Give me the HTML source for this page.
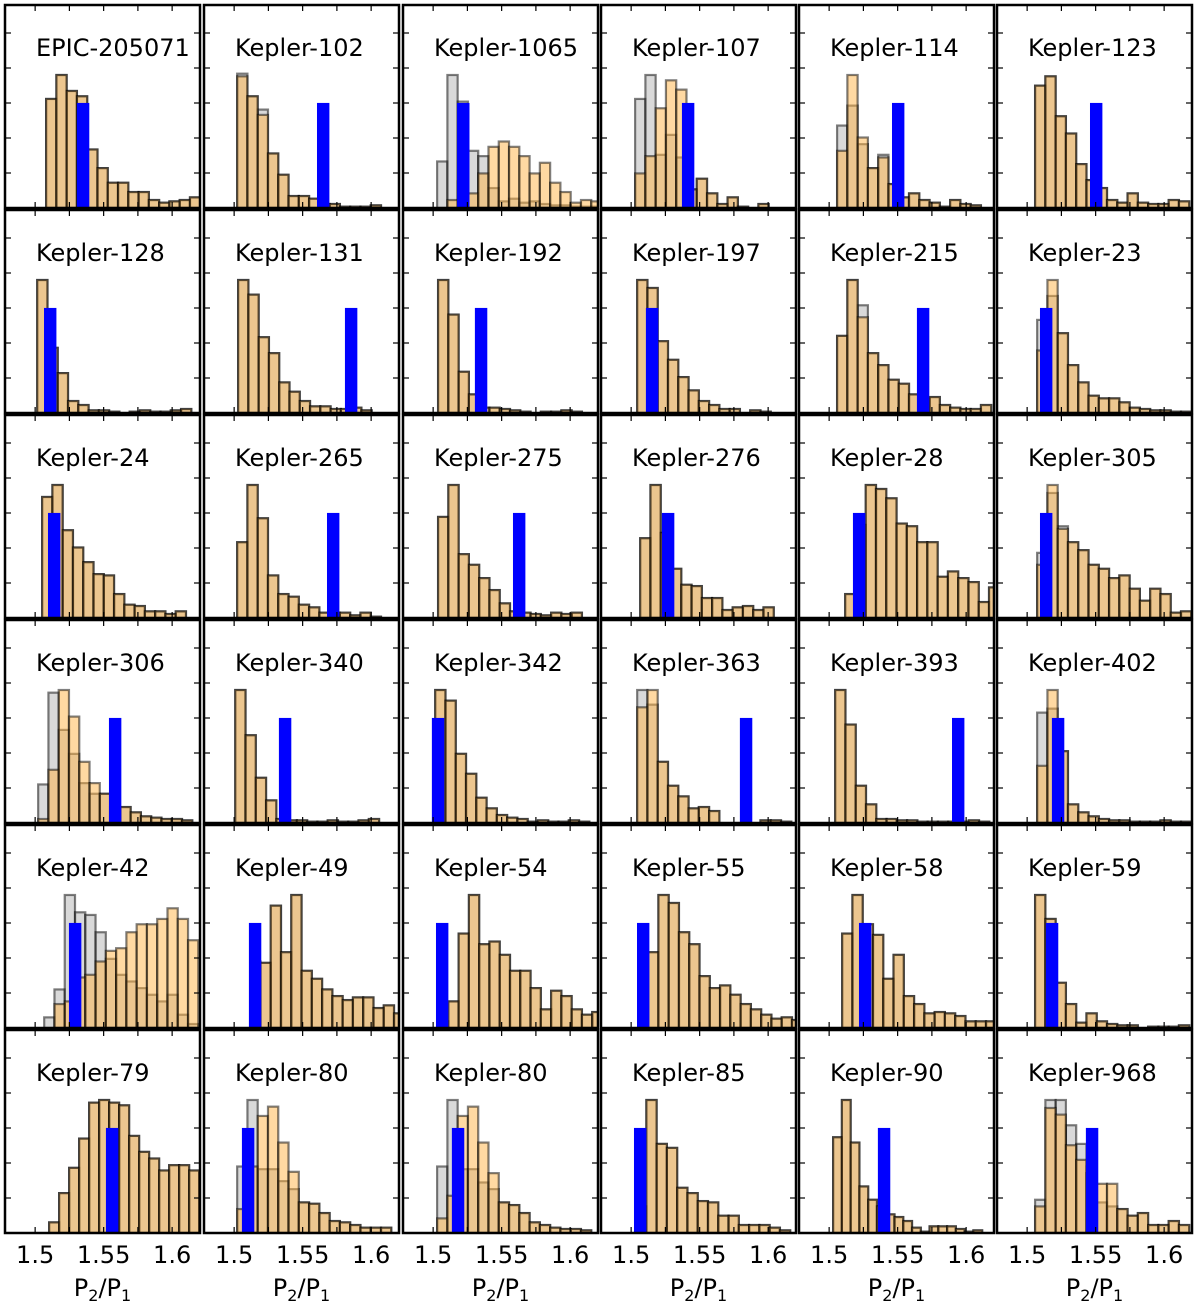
<!DOCTYPE html>
<html><head><meta charset="utf-8">
<style>
html,body{margin:0;padding:0;background:#fff;}
svg{display:block;}
text{font-family:"DejaVu Sans","Liberation Sans",sans-serif;}
</style></head>
<body>
<svg id="fig" width="1200" height="1306" viewBox="0 0 1200 1306" xmlns="http://www.w3.org/2000/svg"></svg>
<script>
const systemNames = ["EPIC-205071","Kepler-102","Kepler-1065","Kepler-107","Kepler-114","Kepler-123",
"Kepler-128","Kepler-131","Kepler-192","Kepler-197","Kepler-215","Kepler-23",
"Kepler-24","Kepler-265","Kepler-275","Kepler-276","Kepler-28","Kepler-305",
"Kepler-306","Kepler-340","Kepler-342","Kepler-363","Kepler-393","Kepler-402",
"Kepler-42","Kepler-49","Kepler-54","Kepler-55","Kepler-58","Kepler-59",
"Kepler-79","Kepler-80","Kepler-80","Kepler-85","Kepler-90","Kepler-968"];
const binStarts = [1.5080,1.5022,1.5029,1.5029,1.5058,1.5058,
1.5015,1.5029,1.5036,1.5044,1.5058,1.5073,
1.5051,1.5022,1.5036,1.5066,1.5117,1.5073,
1.5022,1.5008,1.5015,1.5044,1.5044,1.5073,
1.5066,1.5117,1.5036,1.5124,1.5095,1.5058,
1.5102,1.5022,1.5029,1.5036,1.5029,1.5058];
const binWidths = [0.0075,0.0075,0.0075,0.0075,0.0075,0.0075,
0.0075,0.0075,0.0075,0.0075,0.0075,0.0075,
0.0075,0.0075,0.0075,0.0075,0.0075,0.0075,
0.0075,0.0075,0.0075,0.0075,0.0075,0.0075,
0.0075,0.0075,0.0075,0.0075,0.0075,0.0075,
0.0073,0.0075,0.0075,0.0075,0.0064,0.0075];
const orangeCounts = [
[82,100,88,84,44,30,19,19,12,12,6,4,5,6,8],
[99,84,70,41,25,9,9,7,3,3,1,1,1,2,0],
[0,6,20,11,26,46,50,46,39,26,34,19,12,4,6,5],
[26,39,75,96,89,14,22,11,3,8,1,0,3,0,0],
[43,100,53,30,38,18,8,11,6,4,1,6,3,2,0],
[92,99,69,56,33,21,15,6,4,11,4,3,3,6,5],
[100,49,30,9,6,2,2,1,0,1,2,1,1,2,3],
[100,89,57,45,23,16,9,5,5,3,3,4,2],
[100,74,31,14,4,4,3,2,1,0,1,1,2,1],
[100,94,54,40,27,17,9,6,3,3,0,2,1],
[58,100,72,45,36,25,22,14,11,12,6,4,3,3,6],
[47,100,60,36,23,13,11,11,8,4,3,2,2,1,1],
[91,100,66,53,42,33,32,18,10,9,5,5,3,5],
[57,100,75,32,18,16,10,8,4,4,4,2,4,1],
[76,100,48,40,30,21,11,5,4,3,2,4,3,4],
[60,100,64,37,25,24,15,15,6,8,9,6,8],
[18,70,100,97,90,71,69,57,57,31,35,30,27,12,23],
[40,100,67,57,51,40,37,30,32,22,13,22,18,4,5],
[3,40,100,80,46,30,22,12,12,8,5,4,3,3,2],
[100,66,34,17,3,2,2,1,1,2,1,1,2,3],
[100,92,52,37,19,11,6,4,3,1,2,1,1,2,1],
[87,100,46,28,20,11,12,9,0,0,0,0,2,2,1],
[100,74,28,14,3,3,2,2,1,1,1,1,1,2,1],
[43,100,54,14,8,5,3,2,2,1,1,1,2,1,1],
[0,18,20,38,40,50,58,60,72,78,78,82,90,82,66],
[50,49,92,57,100,43,37,29,24,21,23,23,15,17,11],
[5,20,71,100,63,65,55,43,43,30,14,28,24,14,10,12],
[57,100,94,72,63,39,30,32,25,18,14,10,7,8,6],
[71,100,78,70,37,55,24,18,11,12,11,9,5,5,5],
[100,82,34,18,4,11,5,3,2,2,0,1,1,1,2],
[8,30,49,71,98,100,98,96,73,61,56,47,51,51,47],
[18,50,88,95,68,46,23,22,15,9,8,6,4,4,4],
[11,28,88,95,68,45,23,21,15,8,6,4,3,3,2],
[20,100,67,64,34,30,24,23,13,13,6,6,6,4,2],
[72,100,68,35,25,20,14,12,9,4,1,5,5,5,3,1,2],
[20,94,89,66,55,45,37,37,18,13,15,6,6,9,6]];
const grayCounts = [
null,
[101,84,74,41,25,9,9,7,3,3,1,1,1,2,0],
[35,100,80,43,39,15,5,7,4,5,3,2,2,1,1,1],
[82,100,40,55,38,14,22,11,3,8,1,0,3,0,0],
[62,77,48,30,40,18,8,11,6,4,1,6,3,2,0],
null,null,null,null,null,
[58,100,81,45,36,25,22,14,11,12,6,4,3,3,6],
[70,88,60,36,23,13,11,11,8,4,3,2,2,1,1],
null,null,null,null,null,
[49,94,69,57,51,40,37,30,32,22,13,22,18,4,5],
[29,98,70,52,30,22,22,12,12,8,5,4,3,3,2],
null,null,
[100,89,46,28,20,11,12,9,0,0,0,0,2,2,1],
null,
[83,86,54,14,8,5,3,2,2,1,1,1,2,1,1],
[8,29,100,87,85,72,52,40,35,30,25,20,25,10,3],
null,null,null,null,null,null,
[50,100,48,48,39,33,23,22,15,9,8,6,4,4,4],
[50,100,48,48,38,33,23,21,15,8,6,4,3,3,2],
null,null,
[25,100,100,81,67,50,23,20,18,13,15,6,6,9,6]];
const observedRatio = [1.535,1.565,1.522,1.5416,1.5504,1.5504,
1.511,1.5854,1.535,1.5153,1.5686,1.5139,
1.5139,1.5723,1.5628,1.527,1.5219,1.5139,
1.5584,1.5372,1.5036,1.5839,1.5942,1.5226,
1.5292,1.5153,1.5066,1.5088,1.5263,1.5182,
1.5562,1.5102,1.5182,1.5066,1.5401,1.5474];
const blueValue = 79;
const xTickValues = [1.5,1.525,1.55,1.575,1.6];
const xTickLabels = ["1.5","1.55","1.6"];
const xTickLabelValues = [1.5,1.55,1.6];

const NS="http://www.w3.org/2000/svg";
const svg=document.getElementById('fig');
const colLefts=[5,204,403,601,799,997], rowTops=[5,210,415,620,825,1030];
const PW=195, PH=203, PXU=1370, X0=1.478, HMAX=133;
function mk(tag,attrs,parent){const e=document.createElementNS(NS,tag);for(const k in attrs)e.setAttribute(k,attrs[k]);(parent||svg).appendChild(e);return e;}
function xs(left,v){return left+(v-X0)*PXU;}
function ys(top,v){return top+PH-v/100*HMAX;}

systemNames.forEach((nm,i)=>{
  const left=colLefts[i%6], top=rowTops[Math.floor(i/6)];
  const g=mk('g',{});
  
  
  const clipId='c'+i;
  const cp=mk('clipPath',{id:clipId},g);
  mk('rect',{x:left,y:top,width:PW,height:PH},cp);
  const bars=mk('g',{'clip-path':'url(#'+clipId+')'},g);
  const gc=grayCounts[i]||orangeCounts[i];
  gc.forEach((v,j)=>{
    if(v<=0) return;
    const x1=xs(left,binStarts[i]+j*binWidths[i]), x2=xs(left,binStarts[i]+(j+1)*binWidths[i]);
    const r=mk('rect',{x:x1,y:ys(top,v),width:x2-x1,height:v/100*HMAX,fill:'rgba(165,165,165,0.42)',stroke:'rgba(0,0,0,0.5)','stroke-width':2.2},bars);
    
    
  });
  orangeCounts[i].forEach((v,j)=>{
    if(v<=0) return;
    const x1=xs(left,binStarts[i]+j*binWidths[i]), x2=xs(left,binStarts[i]+(j+1)*binWidths[i]);
    const r=mk('rect',{x:x1,y:ys(top,v),width:x2-x1,height:v/100*HMAX,fill:'rgba(255,180,70,0.5)',stroke:'rgba(0,0,0,0.5)','stroke-width':2.2},bars);
    
    
  });
  const bx=xs(left,observedRatio[i]);
  const b=mk('rect',{x:bx-6.2,y:ys(top,blueValue),width:12.4,height:blueValue/100*HMAX,fill:'#0000ff'},bars);
  
  
  xTickValues.forEach(t=>{
    const x=xs(left,t);
    mk('line',{x1:x,y1:top,x2:x,y2:top+6,stroke:'#000','stroke-width':1.2},g);
    mk('line',{x1:x,y1:top+PH,x2:x,y2:top+PH-6,stroke:'#000','stroke-width':1.2},g);
  });
  for(let k=1;k<=5;k++){
    const y=top+PH-k*35;
    mk('line',{x1:left,y1:y,x2:left+6,y2:y,stroke:'#000','stroke-width':1.2},g);
    mk('line',{x1:left+PW,y1:y,x2:left+PW-6,y2:y,stroke:'#000','stroke-width':1.2},g);
  }
  const fr=mk('rect',{x:left,y:top,width:PW,height:PH,fill:'none',stroke:'#000','stroke-width':2.5},g);
  
  
  const t=mk('text',{x:left+31,y:top+51,'font-size':24,fill:'#000'},g);
  t.textContent=nm;
  
  
  if(Math.floor(i/6)===5){
    xTickLabels.forEach((lab,k)=>{
      const tl=mk('text',{x:xs(left,xTickLabelValues[k]),y:1263,'font-size':24,'text-anchor':'middle',fill:'#000'});
      tl.textContent=lab;
      
      
    });
    const xl=mk('text',{x:left+PW/2,y:1296,'font-size':24,'text-anchor':'middle',fill:'#000'});
    
    
    xl.innerHTML='P<tspan font-size="16" dy="5">2</tspan><tspan dy="-5">/P</tspan><tspan font-size="16" dy="5">1</tspan>';
  }
});
</script>
</body></html>
